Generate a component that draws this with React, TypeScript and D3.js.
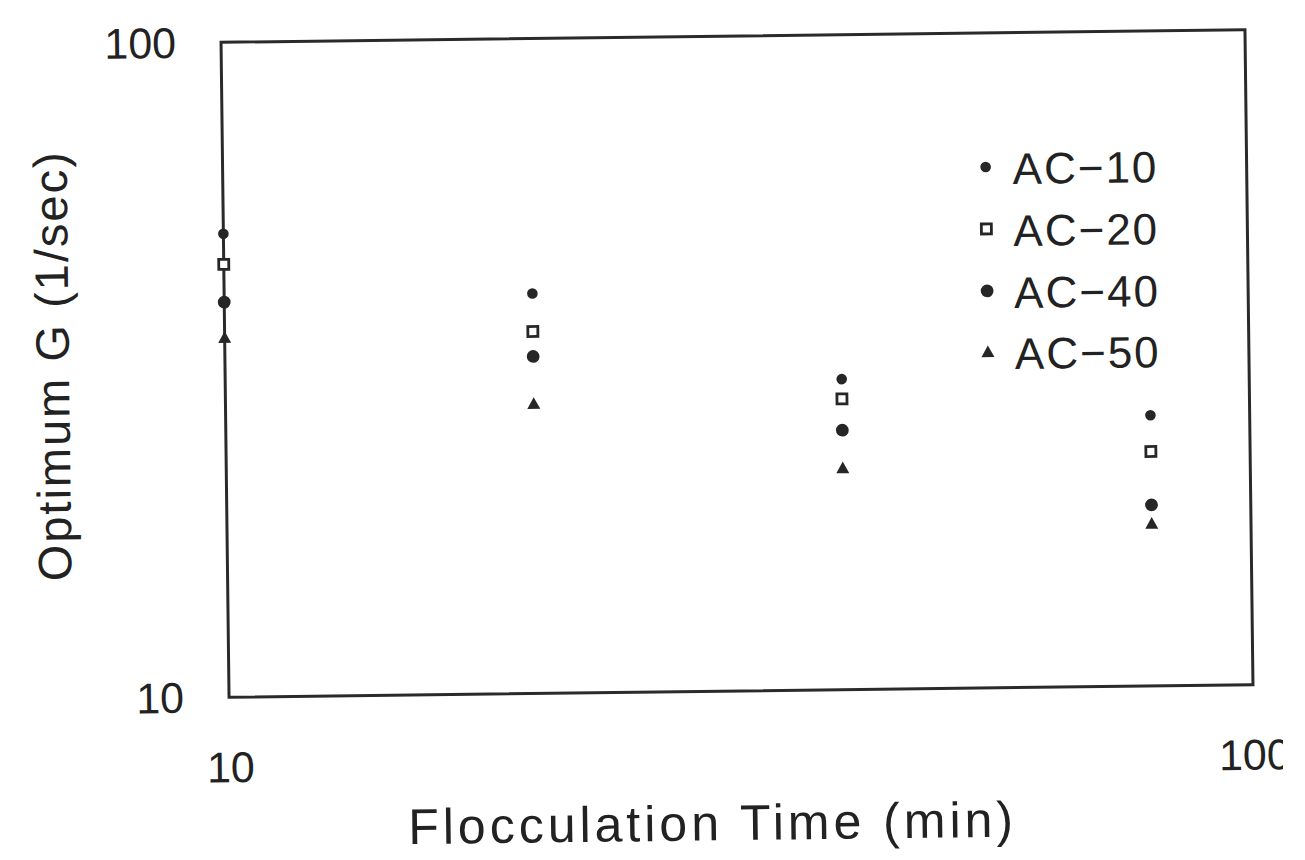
import React from "react";
import * as d3 from "d3";

const times = [10, 20, 40, 80];
const ac10 = [51, 40.8, 29.8, 25.9];
const ac20 = [45.8, 35.7, 27.8, 22.8];
const ac40 = [40.1, 32.7, 24.9, 18.9];
const ac50 = [35.4, 27.7, 21.8, 17.7];
const seriesNames = ["AC-10", "AC-20", "AC-40", "AC-50"];
const xTicks = [10, 100];
const yTicks = [10, 100];

const W = 1305;
const H = 860;
const L = 225, R = 1249, T = 36, B = 691;
const FONT = "'Liberation Sans', Arial, Helvetica, sans-serif";
const INK = "#262626";

function Marker({ kind, x, y }: { kind: number; x: number; y: number }) {
  if (kind === 0) return <circle cx={x} cy={y} r={5.3} fill={INK} />;
  if (kind === 1)
    return <rect x={x - 5} y={y - 5} width={10} height={10} fill="#fff" stroke={INK} strokeWidth={2.8} />;
  if (kind === 2) return <circle cx={x} cy={y} r={6.4} fill={INK} />;
  const s = 6.5;
  return <path d={`M${x},${y - s}L${x + s},${y + s * 0.8}L${x - s},${y + s * 0.8}Z`} fill={INK} />;
}

export default function App() {
  const x = d3.scaleLog().domain([10, 100]).range([L, R]);
  const y = d3.scaleLog().domain([10, 100]).range([B, T]);
  const all = [ac10, ac20, ac40, ac50];
  const legendY = [172, 234, 296, 357];
  return (
    <svg width={W} height={H} style={{ position: "absolute", left: 0, top: 0, background: "#fff" }}>
      <defs>
        <clipPath id="pageclip">
          <rect x={0} y={0} width={1283} height={H} />
        </clipPath>
      </defs>
      <g clipPath="url(#pageclip)">
        <g transform={`rotate(-0.7, 737, 363)`} fontFamily={FONT} fill="#222">
          <rect x={L} y={T} width={R - L} height={B - T} fill="none" stroke="#2a2a2a" strokeWidth={3} />
          {yTicks.map((t) => (
            <text key={"y" + t} x={L - 45} y={y(t)} dy="0.35em" textAnchor="end" fontSize={43}>
              {t}
            </text>
          ))}
          {xTicks.map((t) => (
            <text key={"x" + t} x={x(t) + 1} y={B + 85} textAnchor="middle" fontSize={43}>
              {t}
            </text>
          ))}
          <text x={(L + R) / 2 - 30} y={H - 20} textAnchor="middle" fontSize={50} letterSpacing={4}>
            Flocculation Time (min)
          </text>
          <text
            transform={`translate(69, ${(T + B) / 2 - 6}) rotate(-90)`}
            textAnchor="middle"
            fontSize={47}
            letterSpacing={2}
          >
            Optimum G (1/sec)
          </text>
          {all.map((ser, si) =>
            ser.map((v, i) => <Marker key={si + "-" + i} kind={si} x={x(times[i])} y={y(v)} />)
          )}
          {seriesNames.map((n, i) => (
            <g key={n}>
              <Marker kind={i} x={988} y={legendY[i] - 2} />
              <text x={1015} y={legendY[i]} dy="0.35em" fontSize={44} letterSpacing={2}>
                {n.replace("-", "\u2212")}
              </text>
            </g>
          ))}
        </g>
      </g>
    </svg>
  );
}
